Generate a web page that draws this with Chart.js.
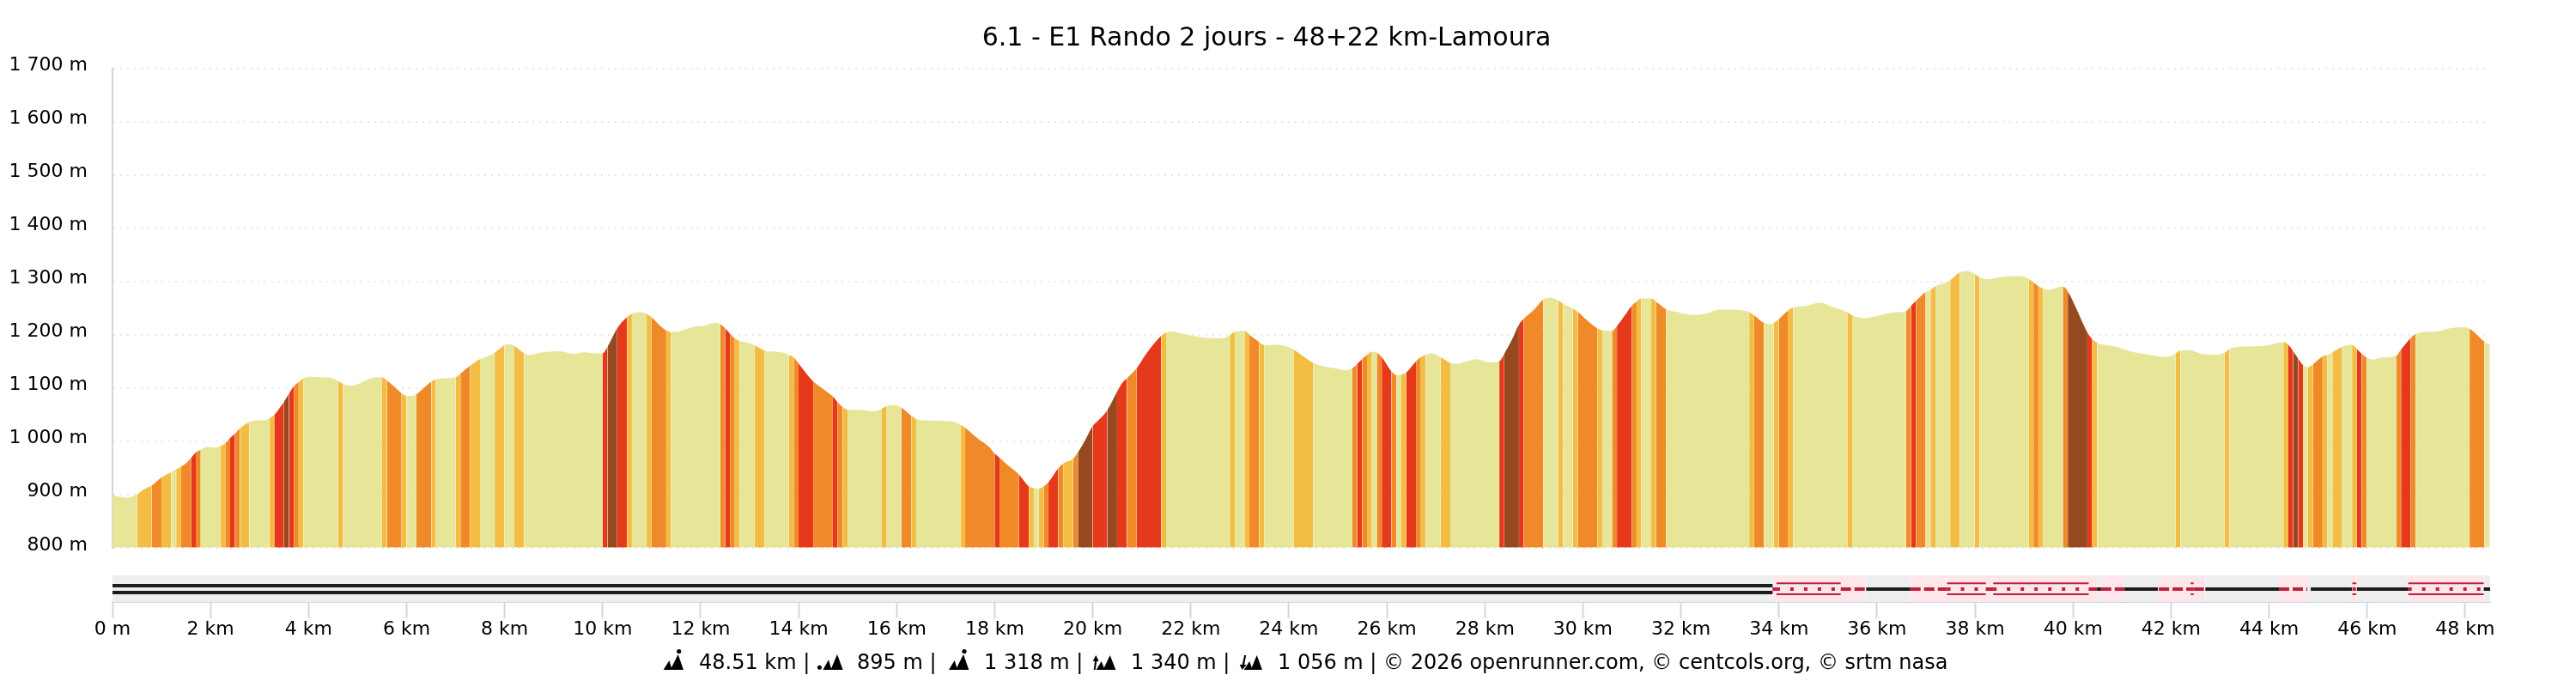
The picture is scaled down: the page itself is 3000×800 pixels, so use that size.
<!DOCTYPE html>
<html><head><meta charset="utf-8">
<style>html,body{margin:0;padding:0;background:#fff;width:3000px;height:800px;overflow:hidden}
canvas{position:absolute;left:0}</style>
<script src="https://cdn.jsdelivr.net/npm/chart.js@4"></script></head>
<body><canvas id="main" width="3000" height="680" style="top:0"></canvas>
<canvas id="strip" width="3000" height="150" style="top:650px"></canvas>
<script>
const titleText = '6.1 - E1 Rando 2 jours - 48+22 km-Lamoura';
const km = [
0,.13,.29,.5,.63,.8,1,1.2,1.3,1.4,
1.52,1.6,1.7,1.8,1.93,2.1,2.2,2.3,2.4,2.5,
2.6,2.79,2.94,3.1,3.2,3.3,3.4,3.5,3.6,3.7,
3.8,3.9,4.03,4.23,4.49,4.6,4.7,4.86,5.03,5.28,
5.5,5.6,5.74,5.9,6,6.1,6.2,6.33,6.51,6.6,
6.79,7,7.1,7.3,7.5,7.67,7.8,8,8.09,8.2,
8.4,8.51,8.72,9.14,9.39,9.64,9.85,10,10.1,10.3,
10.5,10.6,10.77,10.84,10.9,11,11.15,11.3,11.4,11.51,
11.68,11.89,12.1,12.28,12.4,12.5,12.6,12.7,12.8,12.95,
13.1,13.3,13.52,13.69,13.8,13.9,14,14.15,14.3,14.53,
14.7,14.8,14.9,15,15.24,15.54,15.7,15.8,15.95,16.1,
16.3,16.4,16.54,17.13,17.3,17.4,17.67,17.88,18,18.1,
18.22,18.43,18.5,18.7,18.8,18.9,19,19.1,19.3,19.4,
19.6,19.7,19.85,20,20.15,20.3,20.5,20.61,20.7,20.9,
21.11,21.4,21.5,21.61,21.91,22.54,22.7,22.8,22.9,23.1,
23.2,23.4,23.5,23.75,23.99,24.1,24.32,24.5,24.7,24.99,
25.16,25.3,25.4,25.5,25.6,25.7,25.8,25.9,26.1,26.2,
26.3,26.4,26.6,26.7,26.8,26.92,27.1,27.3,27.43,27.63,
27.84,28.09,28.3,28.4,28.56,28.7,28.8,29.01,29.2,29.35,
29.5,29.6,29.8,29.9,30.1,30.3,30.4,30.6,30.7,30.86,
31,31.1,31.2,31.4,31.5,31.7,31.91,32.24,32.5,32.79,
33.09,33.4,33.5,33.7,33.84,33.9,34,34.2,34.3,34.55,
34.84,35.1,35.4,35.5,35.77,35.97,36.31,36.6,36.7,36.8,
37,37.1,37.2,37.5,37.7,37.85,38,38.1,38.26,38.52,
38.89,39.1,39.2,39.3,39.4,39.52,39.69,39.8,39.9,40.07,
40.23,40.3,40.4,40.5,40.9,41.2,41.58,41.87,42.04,42.1,
42.2,42.37,42.67,42.92,43.1,43.2,43.38,43.75,44.05,44.3,
44.4,44.5,44.6,44.7,44.8,44.9,45.1,45.2,45.3,45.5,
45.64,45.7,45.8,45.9,46,46.12,46.31,46.6,46.7,46.9,
47,47.15,47.44,47.7,47.99,48.1,48.4,48.5,48.51];
const elevation = [
899,896,894,900,909,917,932,942,947,952,
960,968,979,984,989,988,991,996,1006,1014,
1024,1036,1039,1039,1043,1049,1061,1074,1089,1103,
1111,1118,1121,1120,1118,1113,1108,1104,1108,1118,
1120,1114,1103,1090,1085,1085,1088,1098,1112,1116,
1118,1120,1127,1142,1154,1160,1166,1180,1182,1179,
1165,1162,1166,1169,1164,1167,1165,1165,1177,1212,
1233,1239,1242,1241,1239,1233,1219,1208,1205,1205,
1210,1215,1217,1222,1220,1212,1202,1193,1188,1185,
1180,1170,1168,1166,1162,1157,1146,1128,1112,1096,
1084,1073,1064,1059,1059,1056,1061,1066,1068,1063,
1048,1042,1039,1037,1031,1025,1004,990,977,969,
959,943,937,915,912,911,915,923,949,958,
967,979,1002,1028,1042,1058,1093,1110,1118,1137,
1166,1198,1204,1206,1200,1193,1194,1199,1205,1207,
1200,1186,1180,1181,1177,1172,1158,1147,1141,1136,
1133,1137,1145,1154,1162,1168,1166,1158,1131,1124,
1125,1129,1150,1158,1162,1165,1158,1147,1145,1150,
1154,1148,1150,1164,1191,1219,1230,1247,1266,1269,
1264,1258,1249,1243,1226,1212,1208,1207,1216,1236,
1254,1262,1268,1268,1262,1248,1243,1237,1239,1247,
1247,1242,1236,1222,1220,1222,1229,1246,1251,1254,
1260,1252,1242,1236,1231,1234,1241,1244,1254,1263,
1280,1284,1291,1302,1317,1319,1314,1308,1304,1308,
1310,1305,1298,1291,1287,1284,1289,1290,1281,1250,
1217,1204,1192,1185,1177,1168,1162,1158,1161,1165,
1170,1171,1163,1162,1166,1173,1177,1178,1181,1186,
1181,1169,1155,1143,1139,1144,1159,1162,1167,1177,
1181,1181,1173,1164,1157,1153,1157,1160,1172,1194,
1201,1205,1206,1212,1214,1211,1187,1182,1182];
const grade = [
0,0,0,1,1,2,1,0,1,2,
2,3,2,0,0,0,1,2,3,2,
1,0,0,0,1,3,3,4,3,2,
1,0,0,0,0,1,0,0,0,0,
1,2,2,1,0,0,2,2,1,0,
0,1,2,1,0,0,1,0,0,1,
0,0,0,0,0,0,0,3,4,3,
1,0,0,0,1,2,2,1,0,0,
0,0,0,0,2,3,2,1,0,0,
1,0,0,0,1,2,3,3,2,2,
3,2,1,0,0,0,1,0,0,2,
1,0,0,0,1,2,2,2,3,2,
2,2,3,1,0,1,2,3,2,1,
2,4,4,3,3,4,3,3,2,3,
3,1,0,0,0,0,0,1,0,1,
2,1,0,0,0,1,1,0,0,0,
0,2,3,2,1,0,2,3,2,0,
1,3,2,1,0,0,1,0,0,0,
0,0,3,4,4,3,2,2,0,0,
1,0,1,2,2,1,0,2,3,3,
2,1,0,1,2,0,0,0,0,0,
0,1,2,0,0,1,2,1,0,0,
0,0,1,0,0,0,0,2,3,2,
0,1,0,1,0,0,1,0,0,0,
0,1,2,1,0,0,0,2,4,4,
4,3,1,0,0,0,0,0,0,1,
0,0,0,0,1,0,0,0,0,1,
3,4,3,0,1,2,1,0,1,0,
0,1,3,2,0,0,0,2,3,2,
0,0,0,0,0,2,0,4,4];
const gradeColors = ['#e6e598','#f2bd42','#f08a28','#e6391c','#96491f'];

const zoneKm = [0,33.87,35.76,36.68,40.49,40.57,41.05,41.73,42.70,44.20,44.78,45.67,45.79,46.81,48.38,48.51];
const zoneColors = ['#eeeeee','#fde7eb'];
const doubleBlack = [[0,33.87]];
const singleBlack = [[35.78,36.68],[40.49,40.57],[41.05,41.73],[42.70,44.20],[44.85,45.69],[45.79,46.84],[48.38,48.51]];
const redDashed = [[33.87,33.95],[35.26,35.76],[36.68,37.43],[38.22,38.37],[40.32,40.49],[40.57,41.05],[41.75,42.40],[42.46,42.70],[44.20,44.78]];
const redRails = [[33.95,35.26],[37.43,38.22],[38.37,40.32],[42.40,42.46],[45.70,45.78],[46.84,48.38]];

const FONT = '"DejaVu Sans"';
const spaced = n => String(n).replace(/\B(?=(\d{3})+(?!\d))/g,' ');

new Chart(document.getElementById('main'),{
  type:'line',
  data:{datasets:[{
    data:km.map((x,i)=>({x,y:elevation[i]})),
    fill:'start',borderWidth:0,pointRadius:0,cubicInterpolationMode:'monotone',
    backgroundColor:gradeColors[0],
    segment:{backgroundColor:c=>gradeColors[grade[c.p0DataIndex]]}
  }]},
  options:{
    responsive:false,animation:false,devicePixelRatio:1,
    layout:{autoPadding:false,padding:{left:0,right:50,top:0,bottom:12}},
    plugins:{legend:{display:false},tooltip:{enabled:false},
      title:{display:true,text:titleText,color:'#000',font:{family:FONT,size:30,weight:'normal'},padding:{top:27,bottom:16.5}}},
    scales:{
      x:{type:'linear',min:0,max:48.51,display:false},
      y:{min:800,max:1700,
        afterFit:s=>{s.width=131;},
        border:{display:true,color:'#ccd6eb',width:2,dash:[2,6]},
        grid:{color:'#e6e6e6',lineWidth:2,drawTicks:false},
        ticks:{stepSize:100,padding:29,labelOffset:-3,color:'#000',crossAlign:'near',
          font:{family:FONT,size:22},callback:v=>spaced(v)+' m'}},
      rightGap:{position:'right',min:0,max:1,afterFit:s=>{s.width=50.5;},
        border:{display:false},grid:{display:false},ticks:{display:false}}
    }
  }
});

const rangePts=(ranges,level)=>ranges.flatMap(([a,b])=>[{x:a,y:level},{x:b,y:level},{x:b,y:null}]);
const trackLine=(ranges,level,color,width,dash)=>({data:rangePts(ranges,level),borderColor:color,borderWidth:width,borderDash:dash||[],pointRadius:0,fill:false,spanGaps:false,borderCapStyle:'butt',order:0});
const CRIMSON='#bf1e3c', BLACK='#1c1c1c';

function tri(ctx,x,y,pts){ctx.beginPath();pts.forEach((p,i)=>{i?ctx.lineTo(x+p[0],y+p[1]):ctx.moveTo(x+p[0],y+p[1]);});ctx.closePath();ctx.fill();}
function mountains(ctx,x,y,sm,bg){tri(ctx,x,y,sm);tri(ctx,x,y,bg);}
const footer={id:'footer',afterDraw(chart){
  const ctx=chart.ctx,base=129,sm=[[0,0],[10,0],[6.7,-11]],bg=[[8,0],[23.3,0],[17,-18]];
  ctx.save();ctx.fillStyle='#000';
  const dot=(x,y,r)=>{ctx.beginPath();ctx.arc(x,y,r,0,7);ctx.fill();};
  mountains(ctx,772.7,base+1,sm,bg);dot(790.7,base-20.5,2.6);
  mountains(ctx,951.7,base+1,[[6.7,0],[16.7,0],[13.3,-11.7]],[[15.7,0],[30,0],[23.3,-18]]);dot(954.4,base-1.7,2.5);
  mountains(ctx,1105,base+1,sm,bg);dot(1123,base-20.5,2.6);
  mountains(ctx,1271.7,base+1,[[5,0],[15,0],[11,-10]],[[13,0],[27.7,0],[21,-17]]);
  tri(ctx,1271.7,base+1,[[2,0],[4,0],[5.6,-10],[8,-10],[4.6,-17],[1,-10],[3.4,-10]]);
  mountains(ctx,1441.7,base+1,[[7,0],[17,0],[13.5,-10]],[[15,0],[28.3,0],[22,-17]]);
  tri(ctx,1441.7,base+1,[[5,0],[10,-6],[7.4,-6],[9.5,-17],[7.5,-17],[5,-6],[2,-6]]);
  ctx.font='24px '+FONT;ctx.textAlign='left';ctx.textBaseline='alphabetic';
  [[814,'48.51 km |'],[998,'895 m |'],[1146,'1 318 m |'],[1317,'1 340 m |'],[1488,'1 056 m | © 2026 openrunner.com, © centcols.org, © srtm nasa']]
    .forEach(([x,t])=>ctx.fillText(t,x,base));
  ctx.restore();
}};

new Chart(document.getElementById('strip'),{
  type:'line',
  data:{datasets:[
    {data:zoneKm.map(x=>({x,y:1})),fill:'start',borderWidth:0,pointRadius:0,backgroundColor:zoneColors[0],order:10,
     segment:{backgroundColor:c=>zoneColors[c.p0DataIndex%2]}},
    trackLine(doubleBlack,.613,BLACK,4),
    trackLine(doubleBlack,.355,BLACK,4),
    trackLine(singleBlack,.484,BLACK,4),
    trackLine(redDashed,.484,CRIMSON,4,[12,4]),
    trackLine(redRails,.484,CRIMSON,4,[4,12]),
    trackLine(redRails,.70,CRIMSON,2),
    trackLine(redRails,.29,CRIMSON,2)
  ]},
  options:{
    responsive:false,animation:false,devicePixelRatio:1,
    layout:{padding:{left:131,right:100,top:20,bottom:0}},
    plugins:{legend:{display:false},tooltip:{enabled:false},title:{display:false}},
    scales:{
      y:{min:0,max:1,display:false},
      x:{type:'linear',min:0,max:48.51,
        afterFit:s=>{s.height=99;},
        border:{display:true,color:'#ccd6eb',width:2},
        grid:{drawOnChartArea:false,drawTicks:true,tickLength:19,tickColor:'#ccd6eb',tickWidth:2,color:'#ccd6eb'},
        ticks:{stepSize:2,includeBounds:false,autoSkip:false,maxRotation:0,padding:0,color:'#000',
          font:{family:FONT,size:22},callback:v=>v===0?'0 m':v+' km'}}
    }
  },
  plugins:[footer]
});
</script></body></html>
